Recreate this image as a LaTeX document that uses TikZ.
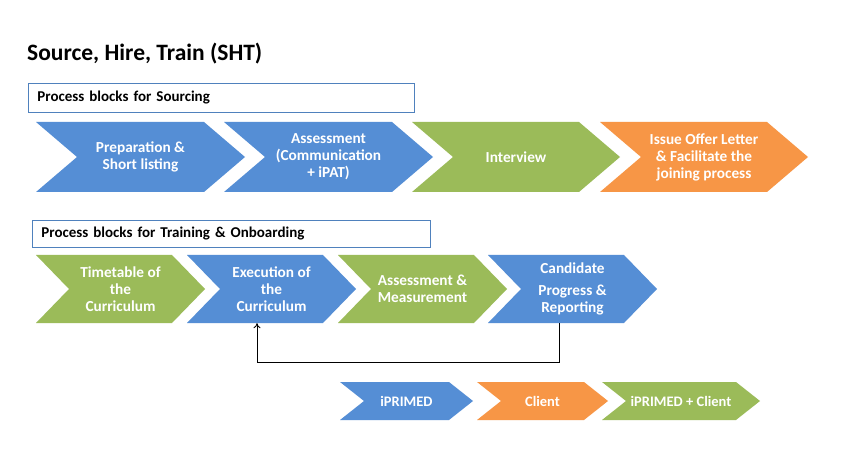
\documentclass[tikz,border=0pt]{standalone}
\usepackage{fontspec}
\setmainfont{Carlito}
\usetikzlibrary{arrows.meta}
\definecolor{cblue}{HTML}{558ED5}
\definecolor{cgreen}{HTML}{9BBB59}
\definecolor{corange}{HTML}{F79646}
\definecolor{cborder}{HTML}{4F81BD}
\newcommand{\chevron}[8]{%
  \fill[#7] (#2,#3) -- ++(#4-#6,0) -- ++(#6,#5/2) -- ++(-#6,#5/2) -- ++(-#4+#6,0) -- ++(#6,-#5/2) -- cycle;
  \node[chevtext, minimum width=#4, minimum height=#5] (#1) at (#2+#4/2,#3+#5/2) {#8};
}
\begin{document}
\begin{tikzpicture}[x=1pt,y=-1pt,
  chevtext/.style={inner sep=0pt, text=white, align=center, font=\bfseries\fontsize{15.3}{17}\selectfont},
  legtext/.style={chevtext, font=\bfseries\fontsize{14.5}{17}\selectfont},
  headbox/.style={draw=cborder, line width=0.8pt, anchor=north west, inner xsep=9pt, inner ysep=0pt, align=left, font=\bfseries\fontsize{15}{17}\selectfont},
  fb/.style={draw=black, line width=0.9pt}]
\useasboundingbox[fill=white] (0,0) rectangle (851,454);
% title
\node[anchor=west, inner sep=0pt, font=\bfseries\fontsize{23.5}{26}\selectfont] (title) at (27,54) {Source, Hire, Train (SHT)};
% sourcing header box
\node[headbox, minimum height=29pt, text width=368pt] (hsrc) at (28,83) {Process blocks for Sourcing};
% row 1
\chevron{prep}{36}{122}{209}{70}{41}{cblue}{Preparation \&\\Short listing}
\chevron{assess}{224}{122}{209}{70}{41}{cblue}{Assessment\\(Communication\\+ iPAT)}
\chevron{interview}{412}{122}{208}{70}{41}{cgreen}{Interview}
\chevron{offer}{600}{122}{208}{70}{41}{corange}{Issue Offer Letter\\\& Facilitate the\\joining process}
% training header box
\node[headbox, minimum height=27pt, text width=380pt] (htrain) at (32,220) {Process blocks for Training \& Onboarding};
% row 2
\chevron{timetable}{36}{255}{169}{68}{33}{cgreen}{Timetable of\\the\\Curriculum}
\chevron{exec}{187}{255}{169}{68}{33}{cblue}{Execution of\\the\\Curriculum}
\chevron{measure}{338}{255}{169}{68}{33}{cgreen}{Assessment \&\\Measurement}
\chevron{cand}{488}{255}{169}{68}{33}{cblue}{Candidate\\[5pt]Progress \&\\Reporting}
% feedback connector
\draw[fb, -{To[length=5pt,width=7pt]}] ([xshift=-13.5pt]cand.south) -- ++(0,39) -| ([xshift=-14.5pt]exec.south);
% legend
\chevron{lgiprimed}{340}{382}{133}{38}{24}{cblue}{}
\node[legtext] (tiprimed) at (lgiprimed.center) {iPRIMED};
\chevron{lgclient}{477}{382}{131}{38}{24}{corange}{}
\node[legtext] (tclient) at (lgclient.center) {Client};
\chevron{lgboth}{602}{382}{158}{38}{24}{cgreen}{}
\node[legtext] (tboth) at (lgboth.center) {iPRIMED + Client};
\end{tikzpicture}
\end{document}
